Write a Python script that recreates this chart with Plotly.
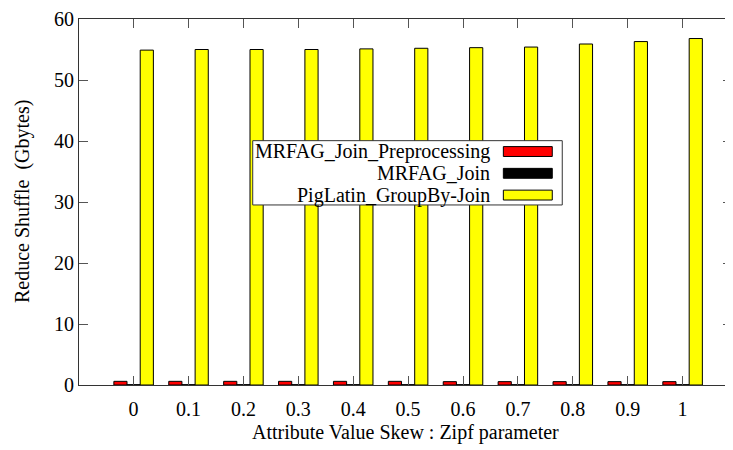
import plotly.graph_objects as go

categories = ["0", "0.1", "0.2", "0.3", "0.4", "0.5", "0.6", "0.7", "0.8", "0.9", "1"]
mrfag_pre = [0.6, 0.6, 0.6, 0.6, 0.6, 0.6, 0.55, 0.55, 0.55, 0.55, 0.55]
mrfag_join = [0.05] * 11
piglatin = [54.9, 55.0, 55.0, 55.0, 55.1, 55.2, 55.3, 55.4, 55.9, 56.3, 56.8]

series_names = ["MRFAG_Join_Preprocessing", "MRFAG_Join", "PigLatin_GroupBy-Join"]
series_colors = ["#ff0000", "#000000", "#ffff00"]
series_values = [mrfag_pre, mrfag_join, piglatin]

# page body has an 8px margin, so the figure is offset by 8px
OFF = 8
W, H = 733 - OFF, 450 - OFF
ML, MR, MT = 79 - OFF, 0, 15 - OFF
PW = 654
PH = 370
MB = H - MT - PH
FONT = "Liberation Serif"
FS = 20


def px(x):
    # screen x -> paper
    return (x - OFF - ML) / PW


def py(y):
    # screen y -> paper
    return (MT + PH - (y - OFF)) / PH


fig = go.Figure()
for name, color, vals in zip(series_names, series_colors, series_values):
    fig.add_trace(go.Bar(
        x=categories, y=vals, name=name,
        marker=dict(color=color, line=dict(color="#000000", width=1)),
        showlegend=False,
    ))

axis_common = dict(
    showline=True, linecolor="#333333", linewidth=1, mirror="ticks",
    ticks="inside", ticklen=9, tickcolor="#555555", tickwidth=1,
    showgrid=False, zeroline=False, ticklabeloverflow="allow",
    tickfont=dict(family=FONT, size=FS, color="#000000"),
)

fig.update_layout(
    width=W, height=H,
    margin=dict(l=ML, r=MR, t=MT, b=MB),
    paper_bgcolor="white", plot_bgcolor="white",
    barmode="group", bargap=0.28, bargroupgap=0,
    font=dict(family=FONT, size=FS, color="#000000"),
    xaxis=dict(type="category", range=[-0.995, 10.9], ticklabelstandoff=6, **axis_common),
    yaxis=dict(range=[0, 60], dtick=10, ticklabelstandoff=0, **axis_common),
)

# Axis titles
fig.add_annotation(text="Attribute Value Skew : Zipf parameter", xref="paper", yref="paper",
                   x=px(406), y=py(433), showarrow=False, xanchor="center", yanchor="middle",
                   font=dict(family=FONT, size=FS))
fig.add_annotation(text="Reduce Shuffle  (Gbytes)", xref="paper", yref="paper",
                   x=px(22), y=py(200), showarrow=False, textangle=-90,
                   xanchor="center", yanchor="middle", font=dict(family=FONT, size=FS))

# Manual legend (samples on the right, gnuplot style)
fig.add_shape(type="rect", xref="paper", yref="paper",
              x0=px(253), x1=px(563), y0=py(203), y1=py(138),
              line=dict(color="#333333", width=1), fillcolor="white", layer="above")
rows = [149, 171, 193]
for name, color, yc in zip(series_names, series_colors, rows):
    fig.add_annotation(text=name, xref="paper", yref="paper", x=px(493), y=py(yc),
                       showarrow=False, xanchor="right", yanchor="middle",
                       font=dict(family=FONT, size=FS))
    fig.add_shape(type="rect", xref="paper", yref="paper",
                  x0=px(504), x1=px(553), y0=py(yc + 5), y1=py(yc - 5),
                  line=dict(color="#000000", width=1), fillcolor=color, layer="above")

fig.write_html("out.html")
